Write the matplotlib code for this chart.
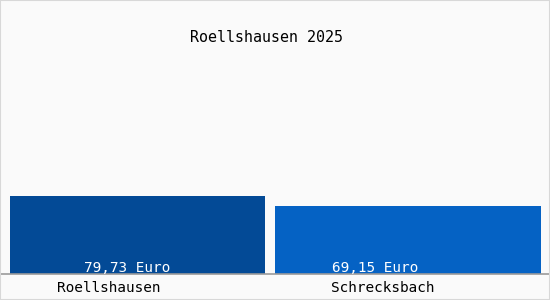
import matplotlib
matplotlib.use("Agg")
import matplotlib.pyplot as plt
from matplotlib.patches import Rectangle

title = "Roellshausen 2025"
categories = ["Roellshausen", "Schrecksbach"]
values = [79.73, 69.15]
value_labels = ["79,73 Euro", "69,15 Euro"]
colors = ["#034a96", "#0562c4"]

fig = plt.figure(figsize=(5.5, 3.0), dpi=100)
fig.patch.set_facecolor("#fafafa")
fig.patches.append(Rectangle((0, 0), 1, 1, transform=fig.transFigure, fill=False,
                             edgecolor="#d8d8d8", linewidth=1.5))

ax = fig.add_axes([0, 26 / 300, 1, 274 / 300])
ax.set_facecolor("none")
ax.set_xlim(-0.508, 1.525)
ax.set_ylim(0, 280)
for s in ax.spines.values():
    s.set_visible(False)
ax.set_xticks([])
ax.set_yticks([])

xs = [0, 1]
ax.bar(xs, values, width=[0.943, 0.983], color=colors, align="center")
ax.axhline(0, color="#9a9a9a", linewidth=1.2, clip_on=False)

font = "DejaVu Sans Mono"
val_off = [-10, -33]
cat_off = [-29, -25]
for x, lab, vo, co, cat in zip(xs, value_labels, val_off, cat_off, categories):
    ax.annotate(lab, (x, 0), xytext=(vo, 6), textcoords="offset pixels",
                ha="center", va="center", color="white", fontsize=10.4, family=font)
    ax.annotate(cat, (x, 0), xytext=(co, -14), textcoords="offset pixels",
                ha="center", va="center", color="black", fontsize=10.4, family=font,
                annotation_clip=False)

fig.text(266 / 550, 1 - 38 / 300, title, ha="center", va="center",
         fontsize=10.8, family=font, color="black")

fig.savefig("out.png", dpi=100, facecolor=fig.get_facecolor())
